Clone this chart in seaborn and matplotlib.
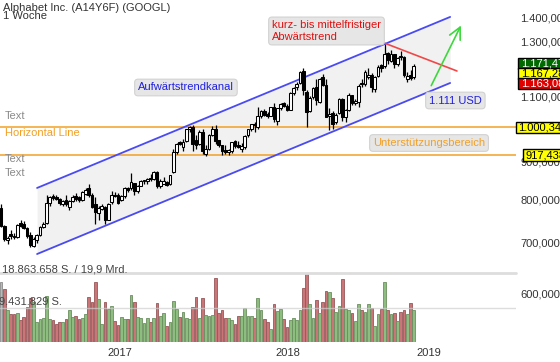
import numpy as np
import pandas as pd
import matplotlib
matplotlib.use("Agg")
import matplotlib.pyplot as plt
from matplotlib.patches import Rectangle
import seaborn as sns

# weekly candles, week 0 = week of 18.04.2016, last = week of 24.09.2018
opens = [780, 738, 706, 720, 716, 713, 745, 742, 732, 718, 694, 706, 718, 736, 745, 792,
         808, 806, 801, 790, 799, 782, 797, 808, 805, 800, 814, 830, 810, 790, 768, 778,
         782, 752, 795, 812, 810, 800, 808, 830, 828, 842, 820, 835, 846, 848, 855, 852,
         872, 835, 840, 845, 839, 870, 925, 955, 940, 957, 993, 1000, 962, 950, 985, 920,
         935, 976, 995, 960, 945, 932, 925, 930, 958, 947, 935, 940, 975, 995, 1010, 1000,
         1035, 1052, 1040, 1035, 1065, 1020, 1060, 1075, 1068, 1055, 1110, 1130, 1145, 1188, 1115, 1050,
         1095, 1130, 1080, 1165, 1138, 1035, 1045, 1015, 1045, 1090, 1030, 1055, 1103, 1075, 1080, 1145,
         1140, 1165, 1175, 1125, 1170, 1210, 1205, 1255, 1225, 1250, 1215, 1245, 1240, 1160, 1175, 1165]
highs = [790, 740, 715, 728, 722, 742, 752, 748, 735, 724, 712, 719, 737, 746, 810, 809,
         813, 812, 804, 800, 810, 800, 810, 815, 808, 822, 830, 840, 815, 805, 785, 790,
         785, 792, 822, 818, 815, 812, 831, 832, 867, 843, 836, 850, 850, 855, 866, 874,
         874, 852, 857, 846, 863, 935, 953, 958, 965, 995, 1003, 1006, 975, 992, 993, 945,
         978, 1004, 1006, 962, 947, 945, 934, 956, 962, 958, 951, 975, 995, 1010, 1015, 1065,
         1055, 1058, 1048, 1064, 1077, 1060, 1077, 1079, 1073, 1115, 1130, 1148, 1187, 1198, 1120, 1100,
         1130, 1158, 1162, 1178, 1160, 1060, 1050, 1045, 1094, 1094, 1058, 1110, 1105, 1090, 1140, 1160,
         1190, 1200, 1180, 1170, 1210, 1215, 1291, 1258, 1268, 1252, 1240, 1265, 1243, 1185, 1190, 1215]
lows = [735, 705, 697, 708, 708, 710, 735, 730, 711, 692, 691, 700, 716, 732, 742, 785,
        800, 798, 787, 785, 784, 775, 793, 797, 793, 797, 810, 806, 780, 743, 752, 775,
        743, 750, 790, 805, 790, 796, 803, 818, 825, 812, 815, 833, 840, 840, 848, 850,
        830, 828, 838, 834, 836, 868, 920, 945, 930, 955, 985, 930, 935, 945, 921, 915,
        932, 972, 948, 940, 917, 920, 918, 923, 938, 938, 925, 935, 970, 988, 985, 995,
        1028, 1035, 1028, 1033, 1015, 1005, 1055, 1062, 1050, 1053, 1105, 1122, 1140, 1105, 1000, 1048,
        1090, 1070, 1076, 1134, 1030, 990, 993, 1010, 1040, 1020, 1015, 1052, 1070, 1070, 1065, 1130,
        1135, 1160, 1115, 1115, 1165, 1185, 1200, 1215, 1220, 1200, 1205, 1230, 1165, 1150, 1155, 1160]
closes = [737, 708, 711, 714, 712, 740, 738, 734, 714, 696, 708, 717, 735, 742, 791, 806,
          804, 801, 792, 797, 788, 797, 806, 802, 800, 818, 824, 812, 783, 770, 780, 785,
          752, 790, 812, 808, 792, 808, 830, 825, 845, 820, 835, 846, 849, 851, 852, 872,
          835, 848, 846, 837, 862, 925, 950, 948, 955, 993, 999, 950, 945, 986, 930, 935,
          976, 994, 958, 946, 928, 925, 931, 955, 943, 940, 942, 974, 994, 1008, 1005, 1034,
          1050, 1038, 1035, 1063, 1025, 1059, 1072, 1068, 1053, 1110, 1128, 1143, 1185, 1120, 1047, 1094,
          1127, 1085, 1160, 1139, 1032, 1040, 1010, 1039, 1089, 1031, 1054, 1104, 1075, 1084, 1136, 1140,
          1184, 1175, 1130, 1167, 1204, 1200, 1252, 1230, 1252, 1215, 1237, 1240, 1174, 1170, 1162, 1207]
# volume in million shares
volumes = [16.4, 14.5, 8.7, 7.6, 7.6, 7.8, 6.0, 6.7, 9.5, 12.1, 10.8, 5.4, 6.4, 6.5, 12.6, 6.3,
           6.0, 4.9, 5.5, 5.5, 6.3, 8.7, 6.7, 7.2, 6.3, 6.6, 7.6, 12.4, 11.0, 16.3, 11.7, 4.8,
           11.0, 8.9, 9.8, 5.8, 4.6, 6.7, 6.4, 6.3, 12.9, 11.0, 6.7, 6.5, 5.3, 6.5, 5.5, 6.5,
           10.6, 7.2, 7.8, 4.4, 5.4, 11.2, 8.9, 6.9, 8.1, 6.5, 6.2, 9.6, 12.4, 6.5, 12.1, 7.4,
           7.1, 7.4, 17.4, 8.0, 8.7, 6.5, 6.6, 6.0, 4.9, 7.1, 7.1, 9.2, 7.1, 7.1, 6.5, 12.1,
           8.7, 6.2, 5.4, 3.6, 10.4, 8.5, 8.9, 6.4, 4.2, 6.0, 6.5, 6.0, 8.7, 14.7, 18.8, 10.3,
           6.5, 11.5, 7.8, 11.0, 14.0, 13.6, 12.0, 8.1, 9.8, 17.2, 8.9, 8.7, 8.0, 5.7, 10.3, 8.7,
           8.2, 10.4, 9.2, 4.5, 7.6, 9.0, 16.3, 8.7, 7.6, 7.8, 5.7, 8.1, 8.7, 7.6, 10.6, 8.7]

price_ticks = [600, 700, 800, 900, 1000, 1100, 1200, 1300, 1400]
year_labels = ["2017", "2018", "2019"]
year_weeks = [36.6, 88.3, 131.7]
support_levels = [1000.341, 917.438]
last_quotes = [1171.47, 1167.28, 1163.08]
vol_max = 18863658

# drawn trend lines (week, price)
channel_weeks = [11.1, 138.2]
channel_upper = [829, 1403]
channel_lower = [676.5, 1145]
down_weeks = [117.9, 140.3]
down_prices = [1295, 1188]
arrow_weeks = [132.0, 141.9]
arrow_prices = [1127, 1377]

W, H = 560, 362


def fx(x):
    return x / W


def fy(y):
    return 1 - y / H


def de(v, d=3):
    s = f"{v:,.{d}f}"
    return s.replace(",", "X").replace(".", ",").replace("X", ".")


sns.set_theme(style="white")
plt.rcParams["font.family"] = ["Liberation Sans", "DejaVu Sans"]

fig = plt.figure(figsize=(W / 100, H / 100), dpi=100, facecolor="white")
ax = fig.add_axes([0, fy(343), fx(516), 343 / H])
axv = fig.add_axes([0, fy(342), fx(516), (342 - 273) / H])

o = np.array(opens, float)
h = np.array(highs, float)
l = np.array(lows, float)
c = np.array(closes, float)
weeks = np.arange(len(c))
up = c >= o

ax.set_yscale("log")
xlim = (-1 / 3.25, -1 / 3.25 + 516 / 3.25)
ax.set_xlim(xlim)
ax.set_ylim(514.5, 1478)

# channel and helper lines
ax.fill_between(channel_weeks, channel_lower, channel_upper, color="#f1f1f1", lw=0, zorder=0)
for lvl in support_levels:
    ax.axhline(lvl, color="#f2a024", lw=1.1, zorder=1)
ax.plot(channel_weeks, channel_upper, color="#4a4af2", lw=1.3, zorder=2)
ax.plot(channel_weeks, channel_lower, color="#4a4af2", lw=1.3, zorder=2)

# candles
body_lo = np.minimum(o, c)
body_h = np.maximum(np.abs(c - o), body_lo * 0.003)
ax.vlines(weeks, l, h, color="black", lw=0.9, zorder=3)
ax.bar(weeks, body_h, bottom=body_lo, width=0.8,
       color=np.where(up, "white", "black"), edgecolor="black", linewidth=0.75, zorder=4)

ax.plot(down_weeks, down_prices, color="#f04848", lw=1.2, zorder=5)
ax.annotate("", xy=(arrow_weeks[1], arrow_prices[1]), xytext=(arrow_weeks[0], arrow_prices[0]),
            arrowprops=dict(arrowstyle="->,head_length=0.7,head_width=0.35", color="#3cd83c", lw=1.2),
            zorder=5)

ax.yaxis.tick_right()
ax.set_yticks(price_ticks)
ax.set_yticklabels([de(v) for v in price_ticks])
ax.yaxis.set_minor_locator(matplotlib.ticker.NullLocator())
ax.set_xticks(year_weeks)
ax.set_xticklabels(year_labels)
ax.tick_params(axis="y", length=0, pad=3, labelsize=8, labelcolor="#333333")
ax.tick_params(axis="x", length=0, pad=3.5, labelsize=8, labelcolor="#333333")
for s in ax.spines.values():
    s.set_visible(False)

# volume panel
vol_dir = np.where(up, "up", "down").astype(object)
vol_dir[0] = "first"
df = pd.DataFrame({"week": weeks, "volume": np.array(volumes) * 1e6, "dir": vol_dir})
sns.barplot(data=df, x="week", y="volume", hue="dir", native_scale=True, dodge=False,
            palette={"up": "#88c974", "down": "#d8676b", "first": "#b9b9b9"},
            width=0.78, errorbar=None, legend=False, linewidth=0.6, ax=axv)
for p in axv.patches:
    fc = np.array(p.get_facecolor())
    p.set_edgecolor(tuple(fc[:3] * 0.75) + (1,))
axv.set_xlim(xlim)
axv.set_ylim(0, vol_max)
axv.axhline(vol_max, color="#dddddd", lw=2, zorder=5, clip_on=False)
axv.axhline(vol_max / 2, color="#cfcfcf", lw=1, alpha=0.7, zorder=5)
axv.patch.set_alpha(0)
axv.axis("off")

# texts
fig.text(fx(3), fy(8), "Alphabet Inc. (A14Y6F) (GOOGL)", fontsize=8, color="#333333", va="center")
fig.text(fx(3), fy(16), "1 Woche", fontsize=8, color="#333333", va="center")
fig.text(fx(5), fy(116.5), "Text", fontsize=8, color="#8a8a8a", va="center")
fig.text(fx(5), fy(132.5), "Horizontal Line", fontsize=8, color="#f2a024", va="center")
fig.text(fx(5), fy(159.5), "Text", fontsize=8, color="#8a8a8a", va="center")
fig.text(fx(5), fy(173), "Text", fontsize=8, color="#8a8a8a", va="center")
fig.text(fx(2), fy(269), de(vol_max, 0) + " S. / 19,9 Mrd.", fontsize=8, color="#444444", va="center")
fig.text(fx(-1), fy(302), de(vol_max / 2, 0) + " S.", fontsize=8, color="#444444", va="center", zorder=6)

box = dict(boxstyle="round,pad=0.3", fc="#e6e6e6", ec="#d2d2d2", lw=0.8)
fig.text(fx(272), fy(31), "kurz- bis mittelfristiger\nAbwärtstrend", fontsize=8, color="#e01010",
         va="center", linespacing=1.15, bbox=box)
fig.text(fx(138), fy(87.5), "Aufwärtstrendkanal", fontsize=8, color="#2020e0", va="center", bbox=box)
fig.text(fx(429), fy(100.5), "1.111 USD", fontsize=8, color="#2020e0", va="center", bbox=box)
fig.text(fx(373), fy(143), "Unterstützungsbereich", fontsize=8, color="#f2a024", va="center", bbox=box)


def tag(x0, y0, y1, txt, fc, tc):
    fig.add_artist(Rectangle((fx(x0), fy(y1)), fx(565) - fx(x0), (y1 - y0) / H,
                             transform=fig.transFigure, fc=fc, ec="black", lw=1, zorder=5))
    fig.text(fx(x0 + 3), fy((y0 + y1) / 2), txt, fontsize=8, color=tc, va="center", zorder=6)


tag(518, 58.5, 68.5, de(last_quotes[0], 2), "#006a00", "white")
tag(518, 68.5, 78.5, de(last_quotes[1], 2), "#ffff00", "black")
tag(518, 78.5, 88.5, de(last_quotes[2], 2), "#e00000", "white")
tag(515.5, 121.5, 133, de(support_levels[0]), "#ffff00", "black")
tag(523, 149.5, 161, de(support_levels[1]), "#ffff00", "black")

fig.savefig("out.png", dpi=100, facecolor="white")
